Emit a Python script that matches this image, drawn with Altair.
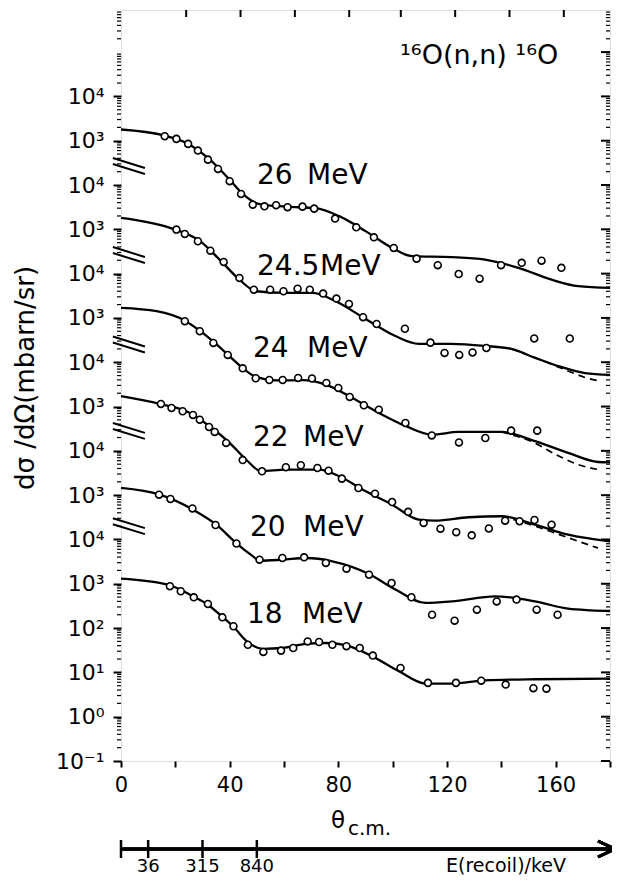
import math
import altair as alt
import pandas as pd

# ---------------- data ----------------
energies = ["18", "20", "22", "24", "24.5", "26"]   # MeV, bottom to top (each shifted by 10^2)

c18_a = [0, 18.0, 26.5, 32.0, 37.5, 41.2, 46.7, 52.2, 59.5, 68.0, 75.4, 82.7, 92.5, 102.3, 112.0, 121.8, 134.0, 152.4, 180]
c18_v = [1300, 925, 522, 337, 175, 110, 48, 34, 35.5, 44, 46, 41, 23, 10.6, 5.6, 5.6, 6.6, 7.0, 7.2]
p18_a = [18.0, 22.0, 26.8, 32.0, 37.3, 41.4, 46.7, 52.4, 58.9, 63.4, 68.7, 72.9, 77.8, 83.0, 87.9, 92.7, 102.9, 113.0, 123.3, 132.6, 141.6, 151.8, 156.6]
p18_v = [880, 678, 495, 350, 175, 110, 42, 29, 31, 35.5, 50, 48.5, 42, 39, 35.5, 24, 12.6, 5.8, 5.8, 6.5, 5.3, 4.4, 4.3]

c20_a = [0, 14.3, 26.5, 35.1, 42.4, 48.5, 51.0, 59.5, 68.1, 77.8, 91.3, 101.0, 112.1, 121.8, 137.7, 152.4, 164.6, 173.1, 180]
c20_v = [1455, 1026, 471, 216, 83, 42, 33, 35, 38.2, 32.2, 16.6, 7.4, 3.7, 4.0, 5.2, 4.0, 2.74, 2.52, 2.43]
p20_a = [14.0, 18.2, 26.3, 34.8, 42.5, 51.0, 59.4, 67.4, 75.4, 83.0, 91.3, 99.6, 106.9, 114.5, 122.8, 131.0, 138.3, 145.6, 153.0, 160.7]
p20_v = [1026, 820, 501, 212, 81, 35, 38.2, 39.6, 29.5, 21.9, 16.0, 10.4, 4.96, 2.0, 1.47, 2.6, 4.0, 4.4, 2.6, 2.0]

c22_a = [0, 14.3, 24.1, 32.6, 40.0, 46.1, 51.6, 60.7, 73.0, 80.3, 90.1, 99.8, 109.6, 115.7, 127.9, 140.1, 152.4, 164.6, 180]
c22_v = [1710, 1145, 783, 359, 151, 63, 34.6, 37.7, 37.7, 26.7, 12.2, 6.1, 2.8, 2.66, 3.17, 3.34, 2.16, 1.28, 0.91]
p22_a = [14.7, 18.6, 22.7, 26.5, 29.0, 32.4, 34.5, 38.7, 44.8, 51.9, 60.7, 66.2, 72.3, 76.4, 81.3, 87.4, 93.5, 99.8, 105.7, 111.4, 117.6, 123.4, 129.1, 135.4, 141.4, 146.7, 152.2, 158.5]
p22_v = [1145, 929, 783, 646, 506, 346, 267, 151, 62, 34.6, 42.7, 47.3, 41.1, 35.7, 23.6, 14.5, 10.8, 7.0, 4.2, 2.36, 1.75, 1.46, 1.24, 1.77, 2.66, 2.58, 2.75, 2.16]
d22_a = [140.1, 152.4, 159.7, 168.3, 175.6]
d22_v = [3.34, 2.0, 1.4, 0.91, 0.64]

c24_a = [0, 13.1, 23.5, 29.0, 33.8, 40.0, 44.8, 49.7, 57.1, 66.8, 75.4, 85.2, 94.9, 104.7, 114.5, 124.3, 140.1, 152.4, 164.6, 175.6, 180]
c24_v = [1683, 1416, 869, 517, 298, 136, 74, 46.6, 38.8, 39.5, 31.2, 15.6, 7.2, 3.65, 2.32, 2.67, 2.67, 1.65, 0.9, 0.56, 0.55]
p24_a = [23.5, 29.0, 34.0, 39.3, 44.8, 49.6, 54.6, 59.5, 65.2, 70.3, 75.6, 80.0, 84.2, 89.4, 94.9, 104.7, 114.4, 124.4, 134.1, 143.6, 153.2]
p24_v = [843, 501, 273, 146, 73, 43.5, 39.8, 39.8, 44.2, 43, 34.1, 26.3, 16.5, 10.7, 8.5, 4.26, 2.23, 1.55, 1.95, 2.86, 2.86]
d24_a = [140.1, 152.4, 159.7, 168.3, 175.6]
d24_v = [2.67, 1.5, 0.85, 0.49, 0.38]

c245_a = [0, 18.0, 29.0, 36.3, 43.6, 49.7, 60.7, 70.5, 79.0, 90.0, 101.0, 109.6, 121.7, 134.2, 143.7, 152.5, 160.9, 170.8, 180]
c245_v = [1807, 1076, 547, 207, 73, 40, 36.7, 36.7, 23.8, 9.5, 3.9, 2.6, 2.6, 2.33, 2.0, 1.25, 0.82, 0.57, 0.52]
p245_a = [20.4, 23.5, 28.3, 32.9, 37.8, 43.6, 48.9, 54.9, 59.8, 65.0, 69.5, 74.4, 79.3, 83.9, 89.1, 94.1, 104.5, 113.9, 119.1, 124.5, 129.4, 134.5, 152.1, 165.2]
p245_v = [985, 787, 538, 330, 184, 80, 43.5, 43.5, 40, 45.8, 43.5, 35.4, 27.3, 20.7, 10.4, 7.3, 5.7, 2.77, 1.62, 1.46, 1.66, 2.1, 3.44, 3.43]
d245_a = [143.7, 155.0, 165.0, 171.0, 176.0]
d245_v = [2.0, 1.1, 0.62, 0.45, 0.38]

c26_a = [0, 15.5, 24.1, 32.0, 40.0, 44.8, 51.0, 60.7, 71.7, 80.3, 90.0, 99.8, 107.2, 121.8, 134.0, 146.3, 158.5, 168.3, 180]
c26_v = [1790, 1330, 890, 409, 132, 63, 37, 32.5, 30, 19.8, 9.1, 3.8, 2.47, 2.35, 2.07, 1.35, 0.73, 0.52, 0.475]
p26_a = [16.1, 20.4, 24.7, 28.3, 32.0, 35.7, 40.0, 44.2, 48.5, 52.8, 57.1, 61.3, 66.8, 71.1, 78.8, 86.6, 93.1, 100.4, 108.8, 116.6, 124.3, 132.0, 139.9, 147.5, 154.8, 162.1]
p26_v = [1262, 1100, 848, 598, 374, 231, 122, 63, 36, 33, 35, 31.6, 32.5, 29.3, 17.5, 11.1, 6.6, 3.8, 2.18, 1.55, 0.98, 0.77, 1.55, 1.75, 1.96, 1.35]

# y axis labels (each panel shifted by two decades)
y_tick_pos = list(range(-1, 15))
y_tick_lab = ["10⁻¹", "10⁰", "10¹", "10²", "10³", "10⁴", "10³", "10⁴",
              "10³", "10⁴", "10³", "10⁴", "10³", "10⁴", "10³", "10⁴"]
break_pos = [4.3, 6.45, 8.4, 10.42, 12.43]      # axis breaks (decade units)
top_ticks = [24, 44, 64, 84, 103, 123, 143, 163]
recoil_angles = [0, 10, 30, 50]
recoil_labels = ["", "36", "315", "840"]

# ---------------- tables ----------------
curves = {"18": (c18_a, c18_v), "20": (c20_a, c20_v), "22": (c22_a, c22_v),
          "24": (c24_a, c24_v), "24.5": (c245_a, c245_v), "26": (c26_a, c26_v)}
points = {"18": (p18_a, p18_v), "20": (p20_a, p20_v), "22": (p22_a, p22_v),
          "24": (p24_a, p24_v), "24.5": (p245_a, p245_v), "26": (p26_a, p26_v)}
dashed = {"22": (d22_a, d22_v), "24": (d24_a, d24_v), "24.5": (d245_a, d245_v)}


def table(src):
    rows = []
    for e, (aa, vv) in src.items():
        k = energies.index(e)
        for a, v in zip(aa, vv):
            rows.append({"energy": e, "angle": a, "u": math.log10(v) + 2 * k})
    return pd.DataFrame(rows)


curve_df = table(curves)
point_df = table(points)
dash_df = table(dashed)

minor = []
for n in range(-1, 16):
    for m in range(2, 10):
        val = n + math.log10(m)
        if val < 15.95:
            minor.append(val)
minor_df = pd.DataFrame({"u": minor})
major_df = pd.DataFrame({"u": list(range(-1, 16))})
top_df = pd.DataFrame({"angle": top_ticks})
rec_df = pd.DataFrame({"angle": recoil_angles, "lab": recoil_labels})

brk = []
for b in break_pos:
    brk.append({"angle": -3.0, "angle2": 8.8, "u": b + 0.18, "u2": b - 0.045})
    brk.append({"angle": -3.0, "angle2": 8.8, "u": b + 0.045, "u2": b - 0.18})
brk_df = pd.DataFrame(brk)

# ---------------- encodings ----------------
W, H = 489, 751
FONT = "DejaVu Sans"

X = alt.X("angle:Q",
          scale=alt.Scale(domain=[0, 180], nice=False, zero=False),
          axis=alt.Axis(values=list(range(0, 181, 20)),
                        labelExpr="datum.value % 40 == 0 ? datum.label : ''",
                        tickSize=6, tickWidth=2, tickColor="black",
                        labelFontSize=21, labelFont=FONT, labelColor="black",
                        labelPadding=7, labelOverlap=False, labelFlush=False,
                        domain=False, grid=False, title=None))
lab_expr = "[" + ",".join("'%s'" % s for s in y_tick_lab) + "][round(datum.value) + 1]"
Y = alt.Y("u:Q",
          scale=alt.Scale(domain=[-1, 15.95], nice=False, zero=False),
          axis=alt.Axis(values=y_tick_pos, labelExpr=lab_expr,
                        tickSize=8, tickWidth=2, tickColor="black",
                        labelFontSize=22, labelFont=FONT, labelColor="black",
                        labelPadding=9, labelOverlap=False, labelFlush=False,
                        labelBaseline="middle",
                        domain=False, grid=False, title=None))

layers = []

layers.append(alt.Chart(curve_df).mark_line(color="black", strokeWidth=2.3, interpolate="monotone")
              .encode(x=X, y=Y, detail="energy:N"))
layers.append(alt.Chart(dash_df).mark_line(color="black", strokeWidth=1.7, strokeDash=[7, 5], interpolate="monotone")
              .encode(x=X, y=Y, detail="energy:N"))
layers.append(alt.Chart(point_df).mark_point(shape="circle", filled=True, fill="white", stroke="black",
                                             strokeWidth=1.6, size=48, opacity=1)
              .encode(x=X, y=Y))

# minor ticks on left (outward) and right (inward), major ticks on right
layers.append(alt.Chart(minor_df).mark_rule(color="black", strokeWidth=1.2)
              .encode(y=Y, x=alt.value(-4), x2=alt.value(0)))
layers.append(alt.Chart(minor_df).mark_rule(color="black", strokeWidth=1.2)
              .encode(y=Y, x=alt.value(W - 4), x2=alt.value(W)))
layers.append(alt.Chart(major_df).mark_rule(color="black", strokeWidth=2)
              .encode(y=Y, x=alt.value(W - 9), x2=alt.value(W)))
layers.append(alt.Chart(top_df).mark_rule(color="black", strokeWidth=2)
              .encode(x=X, y=alt.value(0), y2=alt.value(7)))

# axis breaks //
layers.append(alt.Chart(brk_df).mark_rule(color="black", strokeWidth=2)
              .encode(x=X, x2="angle2:Q", y=Y, y2="u2:Q"))

# recoil energy axis
AY = 839
layers.append(alt.Chart(rec_df).mark_rule(color="black", strokeWidth=3)
              .encode(x=alt.value(0), x2=alt.value(494), y=alt.value(AY)))
layers.append(alt.Chart(rec_df).mark_rule(color="black", strokeWidth=2.5)
              .encode(x=X, y=alt.value(AY - 9), y2=alt.value(AY + 9)))
layers.append(alt.Chart(rec_df).mark_rule(color="black", strokeWidth=3)
              .encode(x=alt.value(477), x2=alt.value(494), y=alt.value(AY - 8), y2=alt.value(AY)))
layers.append(alt.Chart(rec_df).mark_rule(color="black", strokeWidth=3)
              .encode(x=alt.value(477), x2=alt.value(494), y=alt.value(AY + 8), y2=alt.value(AY)))
layers.append(alt.Chart(rec_df).mark_text(font=FONT, fontSize=18, color="black", align="center", baseline="alphabetic")
              .encode(x=X, y=alt.value(AY + 23), text="lab:N"))

one = pd.DataFrame({"t": [""]})


def txt(s, x, y, size, align="left", angle=0, baseline="middle"):
    kw = dict(font=FONT, fontSize=size, color="black", align=align, baseline=baseline)
    if angle:
        kw["angle"] = angle
    return alt.Chart(one).mark_text(text=s, **kw).encode(x=alt.value(x), y=alt.value(y))


layers.append(txt("E(recoil)/keV", 385, AY + 23, 19, align="center", baseline="alphabetic"))
layers.append(txt("θ", 217, 811, 23, align="center"))
layers.append(txt("c.m.", 227, 819, 20))
layers.append(txt("dσ /dΩ(mbarn/sr)", -95, 368, 26, align="center", angle=270))
layers.append(txt("¹⁶O(n,n) ¹⁶O", 279, 46, 27))

label_layout = [("26", 136, 307, 166), ("24.5", 136, 320, 257), ("24", 132, 307, 339),
                ("22", 132, 303, 428), ("20", 129, 303, 518), ("18", 126, 302, 605)]
for num, xn, xm, yy in label_layout:
    layers.append(txt(num, xn, yy, 28))
    layers.append(txt("MeV", xm - 121, yy, 28))

chart = alt.layer(*layers).properties(
    width=W, height=H,
    autosize=alt.AutoSizeParams(type="none"),
    padding={"left": 113, "top": 2, "right": 2, "bottom": 119},
).configure_view(stroke="black", strokeWidth=2.5).configure(background="white")

chart.save("out.html", embed_options={"renderer": "svg", "actions": False})
